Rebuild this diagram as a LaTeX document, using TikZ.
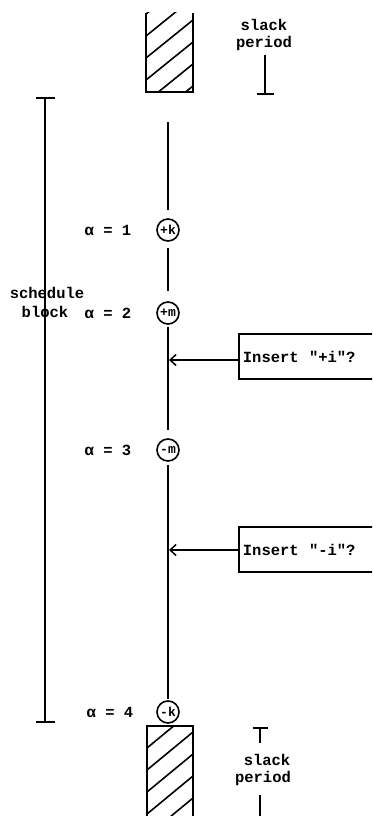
\documentclass[tikz,border=0pt]{standalone}
\usepackage{fontspec}
\setmonofont{Liberation Mono}
\usetikzlibrary{arrows.meta}
\begin{document}
\begin{tikzpicture}[x=1pt,y=-1pt,
  heavy/.style={line width=1.8pt},
  lbl/.style={font=\ttfamily\bfseries\fontsize{15.5}{17}\selectfont, inner sep=0pt},
  circ/.style={circle, draw, line width=1.6pt, minimum size=22pt, inner sep=0pt,
               font=\ttfamily\bfseries\fontsize{13}{13}\selectfont},
  qbox/.style={draw, heavy, anchor=west, minimum height=45pt, text width=132pt,
               inner xsep=4pt, align=left,
               font=\ttfamily\bfseries\fontsize{15.5}{17}\selectfont},
  hatch/.style={line width=1.6pt},
  barb/.style={-{Straight Barb[length=6pt,width=11pt,line width=1.5pt]}}
]
\clip (0,0) rectangle (372,816);
\fill[white] (0,0) rectangle (372,816);

% top hatched block
\draw[heavy] (146,13) -- (146,92) -- (193,92) -- (193,13);
\begin{scope}
  \clip (146,13) rectangle (193,92);
  \foreach \c in {14,36,58,80,102,124} \draw[hatch] (146,\c) -- (193,\c-38);
\end{scope}

% bottom hatched block
\draw[heavy] (147,830) -- (147,726) -- (193,726) -- (193,830);
\begin{scope}
  \clip (147,726) rectangle (193,830);
  \foreach \c in {748,770,792,814,836,858} \draw[hatch] (147,\c) -- (193,\c-38);
\end{scope}

% top slack period
\node[lbl] (sp1a) at (264,25) {slack};
\node[lbl] (sp1b) at (264,43) {period};
\draw[heavy, -{Bar[width=17pt,line width=1.8pt]}] (265,55) -- (265,95);

% bottom slack period
\draw[heavy, {Bar[width=15pt,line width=1.8pt]}-] (260,727) -- (260,743);
\node[lbl] (sp2a) at (267,760) {slack};
\node[lbl] (sp2b) at (263,778) {period};
\draw[heavy] (260,795) -- (260,820);

% schedule block bar
\draw[heavy, {Bar[width=19pt,line width=1.8pt]}-{Bar[width=19pt,line width=1.8pt]}] (45,97) -- (45,723);
\node[lbl] (sb1) at (47,293) {schedule};
\node[lbl] (sb2) at (45,312) {block};

% events on the schedule line
\node[circ] (c1) at (168,230) {+k};
\node[circ] (c2) at (168,313) {+m};
\node[circ] (c3) at (168,450) {-m};
\node[circ] (c4) at (168,712) {-k};
\coordinate (lt) at (168,122);

\node[lbl] (a1) at (108,230) {α = 1};
\node[lbl] (a2) at (108,313) {α = 2};
\node[lbl] (a3) at (108,450) {α = 3};
\node[lbl] (a4) at (110,712) {α = 4};

\draw[heavy] (lt) -- ([yshift=8pt]c1.north);
\draw[heavy, shorten <=6pt, shorten >=10pt] (c1.south) -- (c2.north);
\draw[heavy, shorten <=2pt, shorten >=8pt] (c2.south) -- (c3.north);
\draw[heavy, shorten <=3pt, shorten >=1pt] (c3.south) -- (c4.north);

% insertion queries
\node[qbox] (b1) at (238,356.5) {Insert~~"+i"?};
\node[qbox] (b2) at (238,549.5) {Insert~~"-i"?};
\coordinate (p1) at (169,360);
\coordinate (p2) at (169,550);
\draw[heavy, barb] (b1.west |- p1) -- (p1);
\draw[heavy, barb] (b2.west |- p2) -- (p2);
\end{tikzpicture}
\end{document}
